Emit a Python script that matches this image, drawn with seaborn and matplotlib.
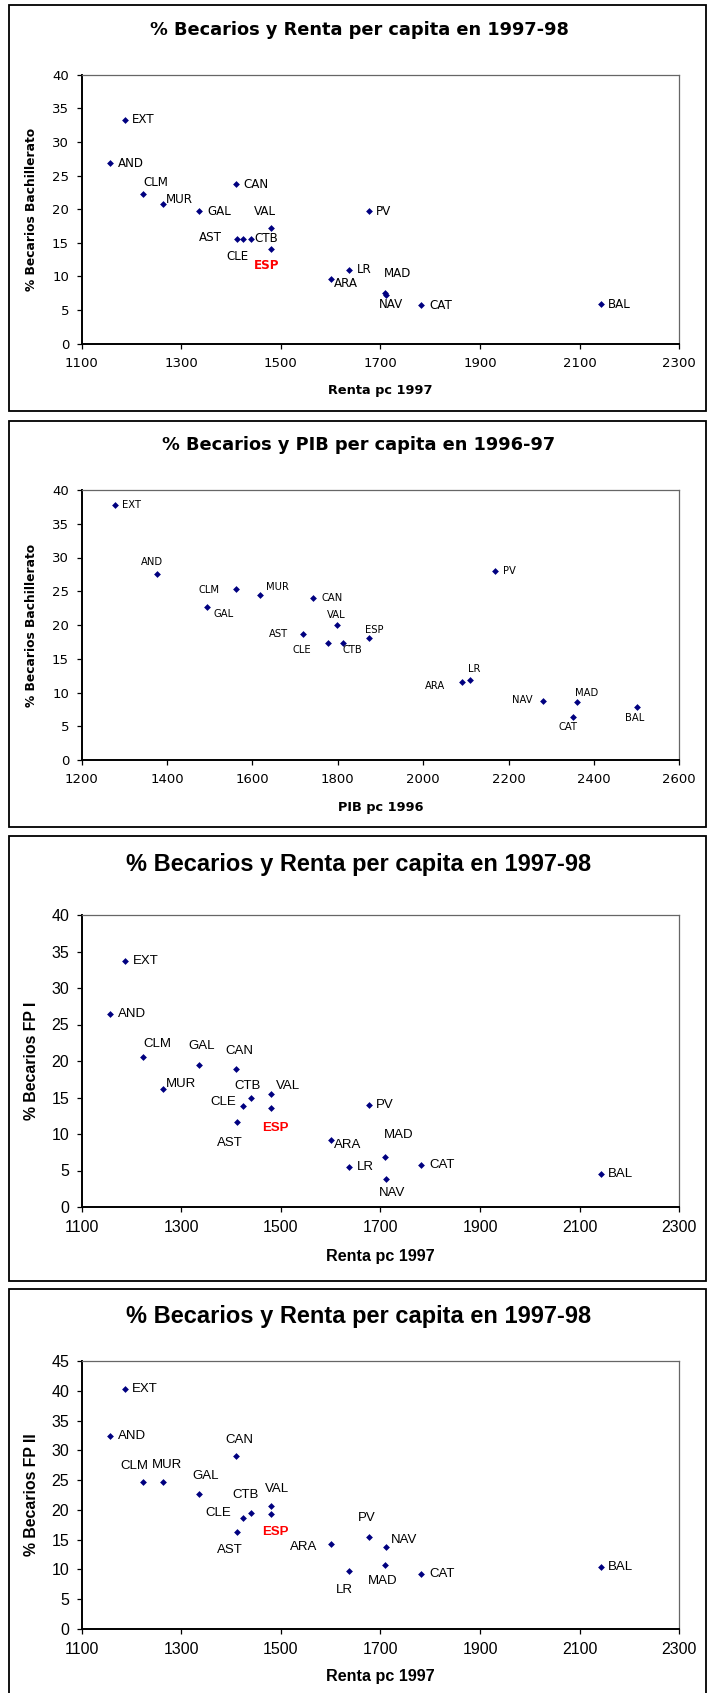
import matplotlib
matplotlib.use("Agg")
import matplotlib.pyplot as plt
import seaborn as sns
from matplotlib.patches import Rectangle

# Comunidades autonomas (same order in every series)
regions = ["EXT", "AND", "CLM", "MUR", "GAL", "CAN", "VAL", "AST", "CLE",
           "CTB", "ESP", "PV", "LR", "ARA", "MAD", "NAV", "CAT", "BAL"]

# Renta pc 1997 (panels 1, 3 and 4)
renta_1997 = [1186, 1157, 1223, 1264, 1336, 1409, 1481, 1411, 1424,
              1439, 1481, 1676, 1636, 1600, 1709, 1712, 1781, 2142]
# PIB pc 1996 (panel 2)
pib_1996 = [1277, 1376, 1561, 1618, 1494, 1743, 1799, 1719, 1776,
            1811, 1873, 2169, 2109, 2091, 2360, 2280, 2351, 2502]

# % becarios
bach_9798 = [33.3, 26.8, 22.3, 20.8, 19.7, 23.7, 17.2, 15.6, 15.6,
             15.6, 14.1, 19.7, 11.0, 9.6, 7.5, 7.2, 5.7, 5.9]
bach_9697 = [37.8, 27.6, 25.4, 24.4, 22.6, 24.0, 20.0, 18.6, 17.3,
             17.4, 18.1, 28.0, 11.9, 11.5, 8.6, 8.8, 6.4, 7.8]
fp1_9798 = [33.7, 26.5, 20.5, 16.1, 19.4, 18.9, 15.5, 11.6, 13.8,
            14.9, 13.6, 14.0, 5.5, 9.2, 6.9, 3.9, 5.7, 4.5]
fp2_9798 = [40.3, 32.4, 24.6, 24.7, 22.6, 29.0, 20.6, 16.3, 18.7,
            19.4, 19.3, 15.4, 9.7, 14.2, 10.8, 13.7, 9.2, 10.4]

# label offsets in pixels (dx right, dy down) from the point to the label's left/middle
off1 = {"EXT": (7.7, 0), "AND": (7.7, 0), "CLM": (0, -11.3), "MUR": (2.7, -4.7),
        "GAL": (8.2, 0), "CAN": (8.2, 0), "VAL": (-17.7, -17), "AST": (-37.6, -1),
        "CTB": (4.1, 0), "CLE": (-16.3, 17.7), "ESP": (-17.7, 17), "PV": (7.7, 0),
        "LR": (8.6, 0), "ARA": (3.6, 4.7), "MAD": (-0.9, -19.3), "NAV": (-7.3, 9),
        "CAT": (8.2, 0), "BAL": (7.7, 0)}
off2 = {"EXT": (7.7, 0), "AND": (-15.9, -11.3), "CLM": (-37.6, 1), "MUR": (5.4, -8.7),
        "GAL": (5.9, 6.3), "CAN": (7.7, 0), "VAL": (-10.9, -9.7), "ESP": (-4.1, -8.3),
        "AST": (-34.5, 0), "CLE": (-35.4, 6.3), "CTB": (-0.5, 7.3), "PV": (7.3, 0),
        "LR": (-1.8, -10.3), "ARA": (-36.7, 4), "NAV": (-30.8, -1), "MAD": (-1.8, -9.3),
        "CAT": (-14.5, 10), "BAL": (-12.7, 10.3)}
off3 = {"EXT": (8.2, 0), "AND": (7.7, 0), "CLM": (0, -13.3), "GAL": (-10.9, -19),
        "CAN": (-10, -17.7), "MUR": (2.7, -5.3), "CTB": (-16.3, -12.3), "VAL": (4.1, -8.3),
        "CLE": (-33.1, -4.7), "ESP": (-9.1, 20.7), "AST": (-19.5, 20.7), "PV": (7.7, 0),
        "ARA": (3.6, 4.7), "MAD": (-0.9, -22), "LR": (8.6, 0), "CAT": (8.2, 0),
        "NAV": (-7.3, 14), "BAL": (7.7, 0)}
off4 = {"EXT": (7.7, 0), "AND": (7.7, 0), "CAN": (-10, -16), "CLM": (-22.2, -16),
        "MUR": (-11.8, -16.7), "GAL": (-6.8, -18), "VAL": (-6.3, -17.7), "CTB": (-17.7, -18),
        "CLE": (-37.6, -5), "ESP": (-9.1, 18.3), "AST": (-19.5, 18.3), "PV": (-10.9, -19),
        "ARA": (-40.8, 3), "NAV": (4.5, -7.7), "MAD": (-16.8, 16.7), "LR": (-12.7, 18.3),
        "CAT": (8.2, 0), "BAL": (7.7, 0)}

W, H = 711, 1693
sns.set_style("ticks")
plt.rcParams["font.family"] = ["DejaVu Sans"]
plt.rcParams["text.color"] = "black"
plt.rcParams["axes.labelcolor"] = "black"
plt.rcParams["xtick.color"] = "black"
plt.rcParams["ytick.color"] = "black"

fig = plt.figure(figsize=(W / 100, H / 100), dpi=100)


def fx(px):
    return px / W


def fy(py):
    return 1 - py / H


def draw_panel(x, y, title, xlabel, ylabel, box, axbox, title_y, xlabel_y,
               xticks, yticks, offsets, font, sz, esp_red):
    """One Excel-like scatter panel with its frame"""
    bl, bt, br, bb = box
    fig.add_artist(Rectangle((fx(bl), fy(bb)), (br - bl) / W, (bb - bt) / H,
                             transform=fig.transFigure, fill=False,
                             edgecolor="black", linewidth=1.3))
    al, at, ar, ab = axbox
    ax = fig.add_axes([fx(al), fy(ab), (ar - al) / W, (ab - at) / H])
    sns.scatterplot(x=x, y=y, ax=ax, marker="D", s=12, color="#000080",
                    linewidth=0, legend=False, zorder=3)
    ax.set_xlim(xticks[0], xticks[-1])
    ax.set_ylim(yticks[0], yticks[-1])
    ax.set_xticks(xticks)
    ax.set_yticks(yticks)
    ax.tick_params(direction="out", length=3.6, width=0.9, color="black",
                   labelcolor="black", labelsize=sz["tick"], labelfontfamily=font)
    ax.tick_params(axis="y", pad=5.5)
    ax.tick_params(axis="x", pad=6)
    for s in ["left", "bottom"]:
        ax.spines[s].set_color("black")
        ax.spines[s].set_linewidth(1.4)
    for s in ["top", "right"]:
        ax.spines[s].set_color("#666666")
        ax.spines[s].set_linewidth(0.9)
    # point labels
    for name, xv, yv in zip(regions, x, y):
        dx, dy = offsets[name]
        red = esp_red and name == "ESP"
        ax.annotate(name, (xv, yv), xytext=(dx, -dy), textcoords="offset pixels",
                    ha="left", va="center", fontsize=sz["point"], family=font,
                    color="red" if red else "black",
                    fontweight="bold" if red else "normal")
    ax.set_xlabel(xlabel, fontsize=sz["label"], fontweight="bold", family=font,
                  va="center", color="black")
    ax.set_ylabel(ylabel, fontsize=sz["ylabel"], fontweight="bold", family=font,
                  va="center", color="black")
    ax.xaxis.set_label_coords(0.5, (ab - xlabel_y) / (ab - at))
    ax.yaxis.set_label_coords((32 - al) / (ar - al), 0.5)
    fig.text(fx(359), fy(title_y), title, ha="center", va="center", color="black",
             fontsize=sz["title"], fontweight="bold", family=font)
    return ax


small = {"title": 12.8, "tick": 9.5, "point": 8.6, "label": 9.3, "ylabel": 8.8}
small2 = {"title": 12.8, "tick": 9.5, "point": 7.2, "label": 9.3, "ylabel": 8.8}
big = {"title": 17, "tick": 11.5, "point": 9.5, "label": 11.6, "ylabel": 11.4}

renta_ticks = list(range(1100, 2301, 200))

draw_panel(renta_1997, bach_9798, "% Becarios y Renta per capita en 1997-98",
           "Renta pc 1997", "% Becarios Bachillerato",
           (8.7, 4.7, 706, 411), (81.7, 74.7, 679.3, 343.7), 30, 391,
           renta_ticks, list(range(0, 41, 5)), off1, "DejaVu Sans", small, True)

draw_panel(pib_1996, bach_9697, "% Becarios y PIB per capita en 1996-97",
           "PIB pc 1996", "% Becarios Bachillerato",
           (8.7, 420.7, 706, 827), (81.7, 490, 679.3, 760), 445, 807,
           list(range(1200, 2601, 200)), list(range(0, 41, 5)), off2,
           "DejaVu Sans", small2, False)

draw_panel(renta_1997, fp1_9798, "% Becarios y Renta per capita en 1997-98",
           "Renta pc 1997", "% Becarios FP I",
           (8.7, 836, 706, 1281), (81.7, 915, 679.3, 1207), 865, 1257,
           renta_ticks, list(range(0, 41, 5)), off3, "Liberation Sans", big, True)

draw_panel(renta_1997, fp2_9798, "% Becarios y Renta per capita en 1997-98",
           "Renta pc 1997", "% Becarios FP II",
           (8.7, 1289, 706, 1710), (81.7, 1361, 679.3, 1629), 1316, 1676,
           renta_ticks, list(range(0, 46, 5)), off4, "Liberation Sans", big, True)

fig.savefig("out.png", dpi=100)
plt.close()
